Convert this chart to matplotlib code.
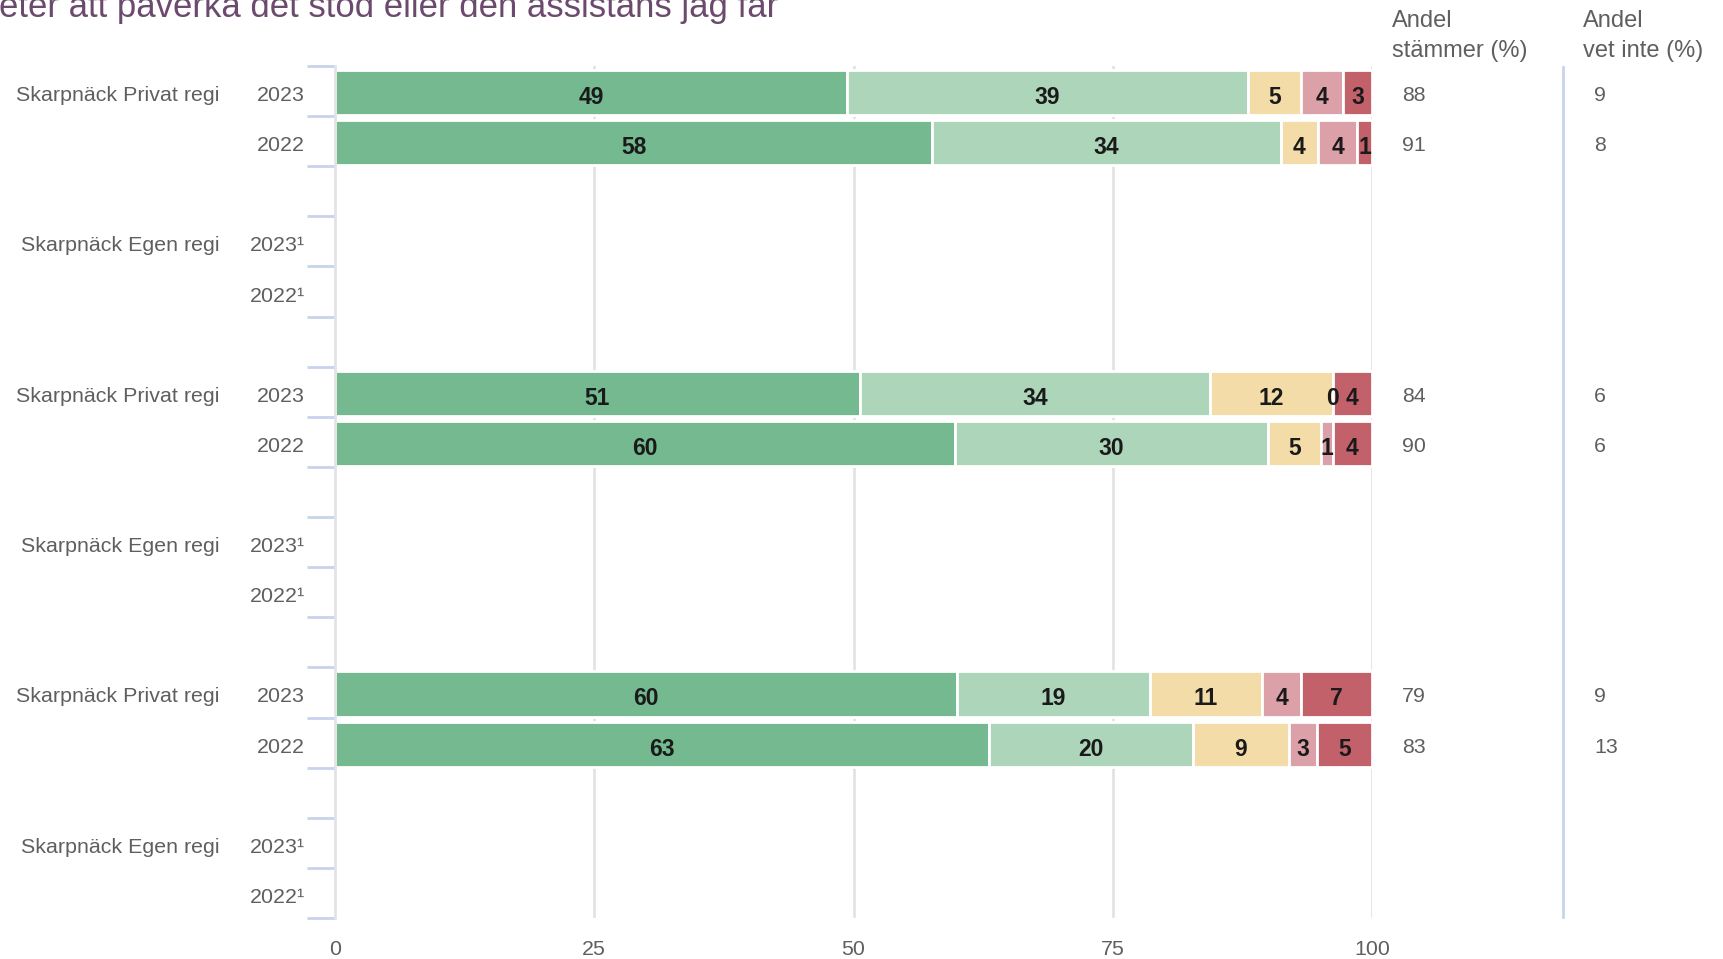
import matplotlib
matplotlib.use("Agg")
import matplotlib.pyplot as plt
import matplotlib.transforms as mtransforms
import numpy as np

plt.rcParams['font.family'] = ['Liberation Sans', 'DejaVu Sans']

title = "eter att påverka det stöd eller den assistans jag får"
group_names = ["Skarpnäck Privat regi", "Skarpnäck Egen regi",
               "Skarpnäck Privat regi", "Skarpnäck Egen regi",
               "Skarpnäck Privat regi", "Skarpnäck Egen regi"]
year_labels = [["2023", "2022"], ["2023¹", "2022¹"],
               ["2023", "2022"], ["2023¹", "2022¹"],
               ["2023", "2022"], ["2023¹", "2022¹"]]

# segment values per bar (None = no data)
seg_values = [
    [[49.4, 38.6, 5.2, 4.0, 2.8], [57.6, 33.6, 3.6, 3.8, 1.4]],
    [None, None],
    [[50.6, 33.8, 11.8, 0.0, 3.8], [59.8, 30.2, 5.1, 1.1, 3.8]],
    [None, None],
    [[60.0, 18.6, 10.8, 3.8, 6.8], [63.1, 19.6, 9.3, 2.7, 5.3]],
    [None, None],
]
seg_labels = [
    [[49, 39, 5, 4, 3], [58, 34, 4, 4, 1]],
    [None, None],
    [[51, 34, 12, 0, 4], [60, 30, 5, 1, 4]],
    [None, None],
    [[60, 19, 11, 4, 7], [63, 20, 9, 3, 5]],
    [None, None],
]
andel_stammer = [[88, 91], [None, None], [84, 90], [None, None], [79, 83], [None, None]]
andel_vet_inte = [[9, 8], [None, None], [6, 6], [None, None], [9, 13], [None, None]]

xticks = [0, 25, 50, 75, 100]
colors = ["#74b990", "#acd5b9", "#f4dca8", "#dba0a8", "#c3616b"]
text_grey = "#5f5f5f"
line_blue = "#c8d4ec"
grid_grey = "#e3e3e3"

W, H = 1723, 959
fig = plt.figure(figsize=(W / 100, H / 100), dpi=100)
ax = fig.add_axes([335 / W, (H - 918) / H, (1372 - 335) / W, (918 - 66) / H])

n_rows = len(group_names) * 3 - 1
ax.set_ylim(n_rows - 0.5, -0.5)
ax.set_xlim(0, 100)

# gridlines
for xv in xticks[1:]:
    ax.axvline(xv, color=grid_grey, lw=2, zorder=0)

trans_y = mtransforms.blended_transform_factory(fig.transFigure, ax.transData)

txt_dy = 0.05
row = 0
for g, gname in enumerate(group_names):
    for k in range(2):
        y = row + k
        if k == 0:
            ax.text(220 / W, y + txt_dy, gname, transform=trans_y, ha='right',
                    va='center_baseline', fontsize=15.4, color=text_grey)
        ax.text(305 / W, y + txt_dy, year_labels[g][k], transform=trans_y, ha='right',
                va='center_baseline', fontsize=15.4, color=text_grey)
        vals = seg_values[g][k]
        if vals is not None:
            left = 0
            for v, lab, c in zip(vals, seg_labels[g][k], colors):
                ax.barh(y + 0.03, v, left=left, height=0.9, color=c, edgecolor='white',
                        linewidth=2, zorder=2)
                ax.text(left + v / 2, y + 0.08, str(lab), ha='center', va='center_baseline',
                        fontsize=16.5, fontweight='bold', color='#1a1a1a', zorder=3)
                left += v
            ax.text(1402 / W, y + txt_dy, str(andel_stammer[g][k]), transform=trans_y,
                    ha='left', va='center_baseline', fontsize=15.4, color=text_grey)
            ax.text(1594 / W, y + txt_dy, str(andel_vet_inte[g][k]), transform=trans_y,
                    ha='left', va='center_baseline', fontsize=15.4, color=text_grey)
    row += 3

# y ticks at every boundary
ax.set_yticks(np.arange(-0.5, n_rows + 0.5, 1.0))
ax.set_yticklabels([])
ax.tick_params(axis='y', length=20, width=2, color=line_blue, direction='out')
ax.set_xticks(xticks)
ax.set_xticklabels([str(t) for t in xticks])
ax.tick_params(axis='x', length=0, labelsize=15.4, labelcolor=text_grey, pad=16)

for s in ['top', 'right', 'bottom']:
    ax.spines[s].set_visible(False)
ax.spines['left'].set_color(grid_grey)
ax.spines['left'].set_linewidth(2)

# right separator line
fig.add_artist(plt.Line2D([1563 / W, 1563 / W], [(H - 917) / H, (H - 67) / H],
                          transform=fig.transFigure, color=line_blue, lw=2))

# column headers
hdr = dict(ha='left', va='baseline', fontsize=17, color=text_grey)
fig.text(1392 / W, 1 - 27 / H, "Andel", **hdr)
fig.text(1392 / W, 1 - 57 / H, "stämmer (%)", **hdr)
fig.text(1583 / W, 1 - 27 / H, "Andel", **hdr)
fig.text(1583 / W, 1 - 57 / H, "vet inte (%)", **hdr)

# title (clipped at top of canvas, as in the reference)
fig.text(-1 / W, 1 - 17 / H, title, ha='left', va='baseline', fontsize=25, color='#6b4a6e')

fig.savefig("out.png", dpi=100)
